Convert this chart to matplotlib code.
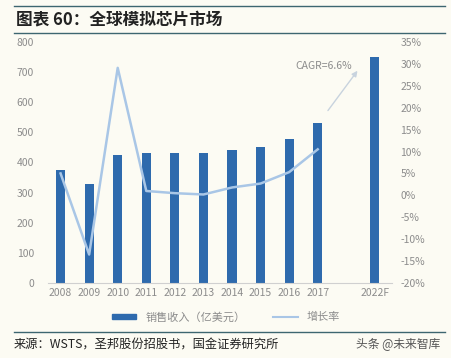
import matplotlib.pyplot as plt
from matplotlib.lines import Line2D
from matplotlib.patches import Patch

plt.rcParams['font.family'] = ['Noto Sans CJK SC', 'DejaVu Sans']

years = ['2008', '2009', '2010', '2011', '2012', '2013', '2014', '2015', '2016', '2017', '2022F']
pos = [0, 1, 2, 3, 4, 5, 6, 7, 8, 9, 11]
sales = [375, 329, 425, 431, 432, 432, 442, 452, 478, 530, 750]
growth_years = [0, 1, 2, 3, 4, 5, 6, 7, 8, 9]
growth = [5.0, -13.5, 29.1, 1.0, 0.5, 0.2, 1.8, 2.7, 5.3, 10.5]

bg = '#fcfbf3'
bar_c = '#2e6aad'
line_c = '#a9c6e6'
grey = '#8c8c8c'

fig = plt.figure(figsize=(4.52, 3.58), dpi=100, facecolor=bg)
ax = fig.add_axes([48/452, 1-283/358, 344/452, 241/358])
ax.set_facecolor(bg)
ax.bar(pos, sales, width=0.32, color=bar_c, zorder=2)
ax.set_ylim(0, 800)
ax.set_yticks(range(0, 801, 100))
ax.set_xlim(-0.44, 11.6)
ax.set_xticks(pos)
ax.set_xticklabels(years)
for s in ['top', 'right', 'left']:
    ax.spines[s].set_visible(False)
ax.spines['bottom'].set_color('#d0d0d0')
ax.tick_params(axis='both', length=0, labelsize=7.5, colors=grey)
ax.tick_params(axis='y', pad=10)

ax2 = ax.twinx()
ax2.plot(growth_years, growth, color=line_c, lw=1.8, zorder=3)
ax2.set_ylim(-20, 35)
ax2.set_yticks(range(-20, 36, 5))
ax2.set_yticklabels([f'{v}%' for v in range(-20, 36, 5)])
for s in ax2.spines.values():
    s.set_visible(False)
ax2.tick_params(axis='y', length=0, labelsize=7.5, colors=grey, pad=6)

# CAGR arrow
ax.annotate('', xy=(10.45, 712), xytext=(9.3, 565),
            arrowprops=dict(arrowstyle='-|>', color='#c8d3de', lw=1, mutation_scale=8))
ax.text(9.2, 720, 'CAGR=6.6%', fontsize=7.5, color=grey, ha='center', va='center')

# legend
handles = [Patch(color=bar_c, label='销售收入（亿美元）'),
           Line2D([0], [0], color=line_c, lw=1.5, label='增长率')]
fig.legend(handles=handles, loc='center', bbox_to_anchor=(0.5, 1-317/358), ncol=2,
           frameon=False, fontsize=8, labelcolor=grey, handlelength=2.2,
           handleheight=0.35, columnspacing=2.5)

# title and source
fig.add_artist(Line2D([0.03, 0.985], [1-6/358, 1-6/358], color='#3d6670', lw=1))
fig.add_artist(Line2D([0.03, 0.985], [1-33/358, 1-33/358], color='#3d6670', lw=1))
fig.text(16/452, 1-19/358, '图表 60：全球模拟芯片市场', fontsize=12, fontweight='bold',
         style='italic', color='#222222', va='center')
fig.add_artist(Line2D([0.03, 0.985], [1-332/358, 1-332/358], color='#3d6670', lw=1))
fig.text(14/452, 1-345/358, '来源：WSTS，圣邦股份招股书，国金证券研究所', fontsize=8.8,
         color='#222222', va='center')
fig.text(440/452, 1-345/358, '头条 @未来智库', fontsize=8.5, color='#555555',
         va='center', ha='right')

fig.savefig('out.png', dpi=100, facecolor=bg)
